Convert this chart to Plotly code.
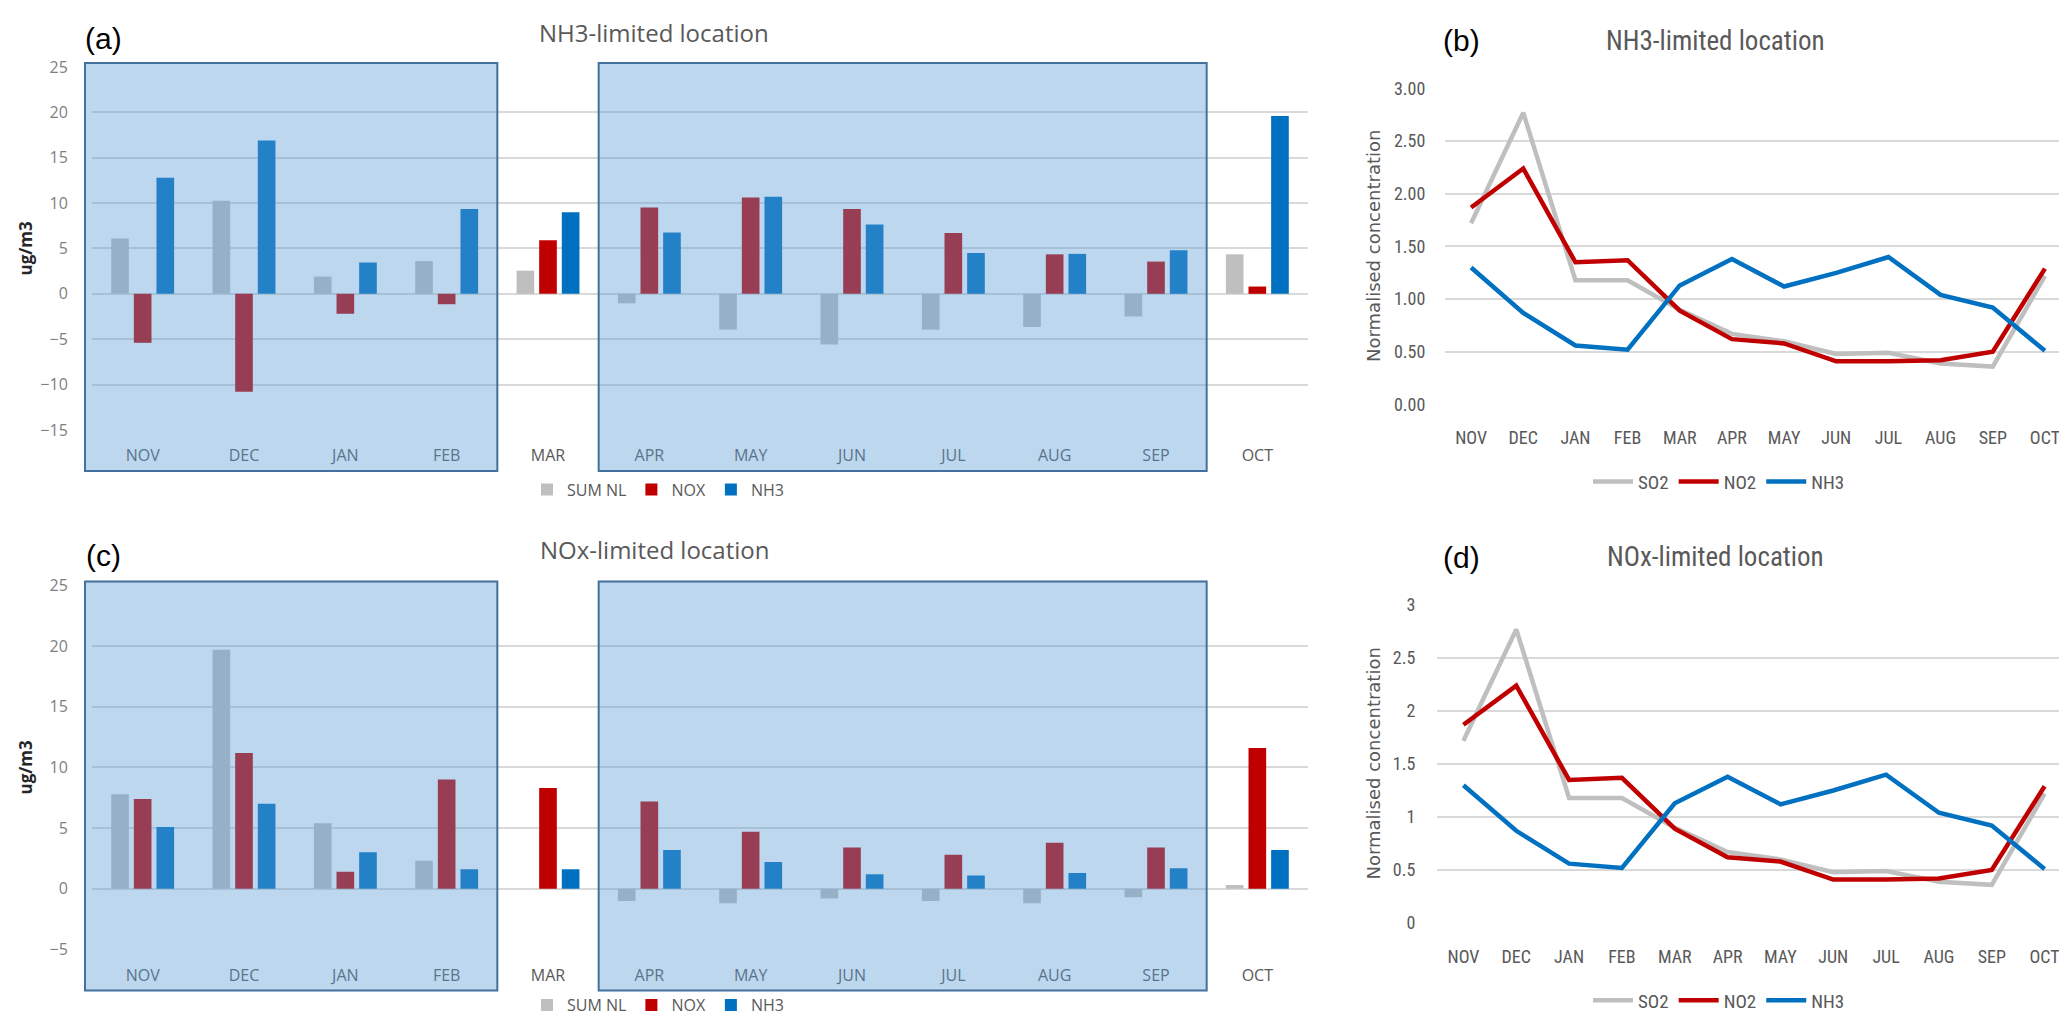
import plotly.graph_objects as go

W, H = 2067, 1017

months = ["NOV", "DEC", "JAN", "FEB", "MAR", "APR", "MAY", "JUN", "JUL", "AUG", "SEP", "OCT"]

# (a) NH3-limited location (ug/m3)
a_sum_nl = [6.1, 10.25, 1.9, 3.6, 2.55, -1.05, -3.95, -5.6, -3.95, -3.65, -2.5, 4.35]
a_nox = [-5.4, -10.8, -2.2, -1.15, 5.9, 9.5, 10.6, 9.35, 6.7, 4.35, 3.55, 0.8]
a_nh3 = [12.8, 16.9, 3.45, 9.35, 9.0, 6.75, 10.7, 7.65, 4.5, 4.4, 4.8, 19.6]

# (c) NOx-limited location (ug/m3)
c_sum_nl = [7.8, 19.7, 5.4, 2.3, 0.0, -1.0, -1.2, -0.8, -1.0, -1.2, -0.7, 0.3]
c_nox = [7.4, 11.2, 1.4, 9.0, 8.3, 7.2, 4.7, 3.4, 2.8, 3.8, 3.4, 11.6]
c_nh3 = [5.1, 7.0, 3.0, 1.6, 1.6, 3.2, 2.2, 1.2, 1.1, 1.3, 1.7, 3.2]

# (b) NH3-limited location, normalised concentration
b_so2 = [1.72, 2.77, 1.18, 1.18, 0.90, 0.67, 0.60, 0.48, 0.49, 0.39, 0.36, 1.22]
b_no2 = [1.87, 2.24, 1.35, 1.37, 0.89, 0.62, 0.58, 0.41, 0.41, 0.42, 0.50, 1.29]
b_nh3 = [1.30, 0.87, 0.56, 0.52, 1.13, 1.38, 1.12, 1.25, 1.40, 1.04, 0.92, 0.51]

# (d) NOx-limited location, normalised concentration
d_so2 = [1.72, 2.77, 1.18, 1.18, 0.90, 0.67, 0.60, 0.48, 0.49, 0.39, 0.36, 1.22]
d_no2 = [1.87, 2.24, 1.35, 1.37, 0.89, 0.62, 0.58, 0.41, 0.41, 0.42, 0.50, 1.29]
d_nh3 = [1.30, 0.87, 0.56, 0.52, 1.13, 1.38, 1.12, 1.25, 1.40, 1.04, 0.92, 0.51]

bar_ticks = [-15, -10, -5, 0, 5, 10, 15, 20, 25]
bar_ticks_c = [-5, 0, 5, 10, 15, 20, 25]
line_ticks = [0, 0.5, 1.0, 1.5, 2.0, 2.5, 3.0]

GREY, RED, BLUE = "#BFBFBF", "#C00000", "#0070C0"
TXT = "#595959"
GRID = "#D9D9D9"


def px(x):
    return x / W


def py(y):
    return 1 - y / H


fig = go.Figure()

# bar panels
for xa, ya, leg, s, n, h in [("x", "y", "legend", a_sum_nl, a_nox, a_nh3),
                             ("x3", "y3", "legend3", c_sum_nl, c_nox, c_nh3)]:
    for name, vals, col in [("SUM NL", s, GREY), ("NOX", n, RED), ("NH3", h, BLUE)]:
        fig.add_trace(go.Bar(x=months, y=vals, name=name, marker=dict(color=col, line=dict(width=0)),
                             xaxis=xa, yaxis=ya, legend=leg))

# line panels
for xa, ya, leg, s, n, h in [("x2", "y2", "legend2", b_so2, b_no2, b_nh3),
                             ("x4", "y4", "legend4", d_so2, d_no2, d_nh3)]:
    for name, vals, col in [("SO2", s, GREY), ("NO2", n, RED), ("NH3", h, BLUE)]:
        fig.add_trace(go.Scatter(x=months, y=vals, name=name, mode="lines",
                                 line=dict(color=col, width=4.5),
                                 xaxis=xa, yaxis=ya, legend=leg))

tick_font_bar = dict(family="Open Sans", size=16, color="#7F7F7F")
month_font_bar = dict(family="Open Sans", size=16, color=TXT)
narrow = "Liberation Sans Narrow, Roboto Condensed, Roboto"
tick_font_line = dict(family=narrow, size=18, color=TXT)


def xbar(dom, anchor):
    return dict(domain=dom, anchor=anchor, type="category", range=[-0.5, 11.5], showgrid=False,
                showline=False, zeroline=False, ticks="outside", ticklen=11,
                tickcolor="rgba(0,0,0,0)", tickfont=month_font_bar)


def ybar(dom, anchor, rng, tv):
    return dict(domain=dom, anchor=anchor, range=rng, tickvals=tv, showgrid=True, gridcolor=GRID,
                gridwidth=1.5, zeroline=False, showline=False, ticks="outside", ticklen=20,
                tickcolor="rgba(0,0,0,0)", tickfont=tick_font_bar)


def xline(dom, anchor):
    return dict(domain=dom, anchor=anchor, type="category", range=[-0.5, 11.5], showgrid=False,
                showline=False, zeroline=False, ticks="outside", ticklen=17,
                tickcolor="rgba(0,0,0,0)", tickfont=tick_font_line)


def yline(dom, anchor, fmt, standoff):
    return dict(domain=dom, anchor=anchor, range=[0, 3], tickvals=line_ticks, tickformat=fmt,
                showgrid=True, gridcolor=GRID, gridwidth=2, zeroline=False, showline=False,
                ticks="outside", ticklen=standoff, tickcolor="rgba(0,0,0,0)", tickfont=tick_font_line)


a_dom_x = [px(84), px(1300)]
a_dom_y = [py(420), py(49)]
c_dom_y = [py(951), py(579)]
b_dom_x = [px(1437), px(2063)]
b_dom_y = [py(394), py(71)]
d_dom_x = [px(1429), px(2063)]
d_dom_y = [py(924), py(599)]

fig.update_layout(
    width=W, height=H, margin=dict(l=0, r=0, t=0, b=0),
    paper_bgcolor="white", plot_bgcolor="white",
    barmode="group", bargap=0.33, bargroupgap=0.22,
    xaxis=xbar(a_dom_x, "y"), yaxis=ybar(a_dom_y, "x", [-15, 25], bar_ticks),
    xaxis3=xbar(a_dom_x, "y3"), yaxis3=ybar(c_dom_y, "x3", [-5, 25], bar_ticks_c),
    xaxis2=xline(b_dom_x, "y2"), yaxis2=yline(b_dom_y, "x2", ".2f", 15),
    xaxis4=xline(d_dom_x, "y4"), yaxis4=yline(d_dom_y, "x4", "", 17),
)

leg_common_bar = dict(orientation="h", xanchor="center", yanchor="middle", itemwidth=30,
                      font=dict(family="Open Sans", size=16, color=TXT), bgcolor="rgba(0,0,0,0)",
                      tracegroupgap=0)
leg_common_line = dict(orientation="h", xanchor="center", yanchor="middle", itemwidth=40,
                       font=dict(family=narrow, size=19, color=TXT), bgcolor="rgba(0,0,0,0)")
fig.update_layout(
    legend=dict(x=px(650), y=py(481), **leg_common_bar),
    legend3=dict(x=px(650), y=py(1008), **leg_common_bar),
    legend2=dict(x=px(1711), y=py(473), **leg_common_line),
    legend4=dict(x=px(1711), y=py(1003), **leg_common_line),
)

# shaded boxes (season blocks) on the bar panels
shapes = []
plot_w = 1300 - 84
for xr, yr, plot_h in [("x domain", "y domain", 420 - 49), ("x3 domain", "y3 domain", 951 - 579)]:
    for (b0, b1, ext) in [(-0.5, 3.5, 7), (4.5, 10.5, 0)]:
        f0 = (b0 + 0.5) / 12 - ext / plot_w
        f1 = (b1 + 0.5) / 12
        shapes.append(dict(type="rect", xref=xr, yref=yr, x0=f0, x1=f1,
                           y0=-42 / plot_h, y1=1 + 4 / plot_h,
                           fillcolor="rgba(91,155,213,0.4)", line=dict(color="#41719C", width=2),
                           layer="above"))
fig.update_layout(shapes=shapes)

ann = []
for txt, x, y in [("(a)", 95, 20), ("(c)", 95, 548), ("(b)", 1453, 22), ("(d)", 1453, 550)]:
    ann.append(dict(text=txt, x=px(x), y=py(y), xref="paper", yref="paper", showarrow=False,
                    xanchor="center", yanchor="middle",
                    font=dict(family="Liberation Sans", size=30, color="black")))
for txt, x, y, fam, size in [("NH3-limited location", 646, 14, "Open Sans", 24),
                             ("NOx-limited location", 646, 542, "Open Sans", 24),
                             ("NH3-limited location", 1708, 22, narrow, 27),
                             ("NOx-limited location", 1708, 550, narrow, 27)]:
    ann.append(dict(text=txt, x=px(x), y=py(y), xref="paper", yref="paper", showarrow=False,
                    xanchor="center", yanchor="middle", font=dict(family=fam, size=size, color=TXT)))
for y in [234.5, 765]:
    ann.append(dict(text="<b>ug/m3</b>", x=px(17), y=py(y), xref="paper", yref="paper",
                    showarrow=False, textangle=-90, xanchor="center", yanchor="middle",
                    font=dict(family="Open Sans", size=17, color="#262626")))
for y in [232, 761]:
    ann.append(dict(text="Normalised concentration", x=px(1366), y=py(y), xref="paper", yref="paper",
                    showarrow=False, textangle=-90, xanchor="center", yanchor="middle",
                    font=dict(family="DejaVu Sans", size=18, color=TXT)))
fig.update_layout(annotations=ann)

fig.write_html("out.html")
